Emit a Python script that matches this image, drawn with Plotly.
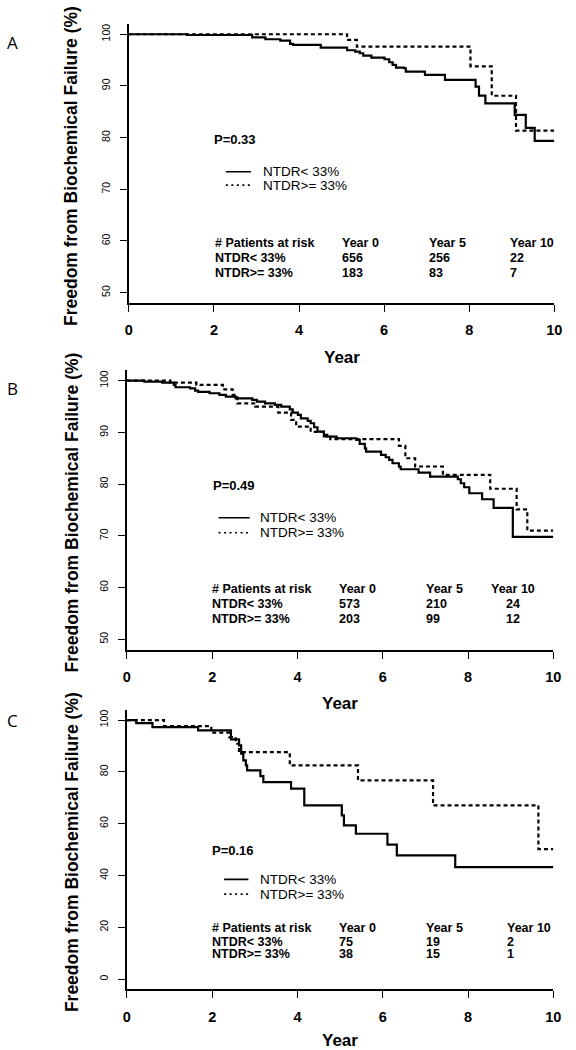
import plotly.graph_objects as go

W, H = 576, 1050

# ---------------- data ----------------
# Panel A
a_lt_t = [0, 1.37, 2.90, 3.21, 3.56, 3.79, 3.86, 4.51, 5.13, 5.32, 5.43, 5.51, 5.70, 6.01, 6.12, 6.20,
          6.28, 6.47, 6.51, 6.96, 7.43, 8.15, 8.23, 8.38, 9.07, 9.33, 9.54, 10.0]
a_lt_s = [100, 99.85, 99.41, 99.03, 98.77, 98.12, 97.93, 97.41, 96.90, 96.64, 96.32, 95.87, 95.48, 95.16,
          94.58, 94.06, 93.55, 93.42, 92.77, 92.13, 91.16, 89.87, 88.13, 86.64, 84.4, 81.9, 79.35, 79.35]
a_ge_t = [0, 5.13, 5.36, 8.03, 8.53, 9.10, 10.0]
a_ge_s = [100, 98.9, 97.6, 93.8, 88.1, 81.35, 81.35]

# Panel B
b_lt_t = [0, 0.41, 0.83, 1.10, 1.14, 1.48, 1.60, 1.67, 1.94, 2.17, 2.32, 2.55, 2.94, 3.05, 3.24, 3.47,
          3.62, 3.82, 3.89, 4.01, 4.08, 4.24, 4.31, 4.39, 4.47, 4.62, 4.70, 4.92, 5.38, 5.46, 5.58, 5.61,
          5.96, 6.07, 6.15, 6.23, 6.38, 6.42, 6.84, 7.11, 7.76, 7.83, 7.91, 8.03, 8.33, 8.60, 9.05, 10.0]
b_lt_s = [100, 99.8, 99.62, 99.17, 98.72, 98.52, 98.07, 97.82, 97.56, 97.24, 96.91, 96.59, 96.27, 95.95,
          95.62, 95.30, 94.98, 94.46, 93.82, 93.37, 92.72, 92.21, 91.76, 90.99, 90.15, 89.50, 89.18, 88.86,
          88.53, 87.76, 86.92, 86.28, 85.64, 85.19, 84.67, 84.03, 83.38, 82.87, 82.22, 81.45, 80.94, 80.16,
          79.39, 78.23, 77.07, 75.4, 69.8, 69.8]
b_ge_t = [0, 1.02, 1.63, 2.25, 2.48, 2.59, 3.01, 3.55, 3.85, 3.97, 4.31, 4.62, 4.77, 6.38, 6.53, 6.76,
          7.41, 8.52, 9.14, 9.39, 10.0]
b_ge_s = [100, 99.62, 99.17, 98.33, 97.24, 95.62, 94.98, 93.82, 92.4, 91.1, 90.1, 89.2, 88.7, 87.4, 85.0,
          83.4, 81.8, 79.1, 75.1, 71.0, 71.0]

# Panel C
c_lt_t = [0, 0.22, 0.60, 1.67, 2.44, 2.63, 2.68, 2.73, 2.79, 2.82, 3.13, 3.20, 3.85, 4.16, 5.04, 5.09,
          5.37, 6.11, 6.33, 7.70, 10.0]
c_lt_s = [100, 98.84, 97.30, 96.01, 92.54, 90.22, 87.0, 84.43, 82.5, 80.57, 78.38, 76.06, 73.49, 67.05,
          63.19, 59.33, 56.11, 51.87, 47.75, 43.24, 43.24]
c_ge_t = [0, 0.87, 1.98, 2.40, 2.55, 2.63, 3.82, 5.42, 7.18, 9.65, 10.0]
c_ge_s = [100, 97.68, 95.11, 93.44, 90.86, 87.64, 82.5, 76.7, 67.05, 50.2, 50.2]

group_labels = ["NTDR< 33%", "NTDR>= 33%"]
risk_header = ["# Patients at risk", "Year 0", "Year 5", "Year 10"]
a_risk_lt = [656, 256, 22]
a_risk_ge = [183, 83, 7]
b_risk_lt = [573, 210, 24]
b_risk_ge = [203, 99, 12]
c_risk_lt = [75, 19, 2]
c_risk_ge = [38, 15, 1]
p_values = ["P=0.33", "P=0.49", "P=0.16"]
panel_letters = ["A", "B", "C"]
x_ticks = [0, 2, 4, 6, 8, 10]
y_ticks_ab = [50, 60, 70, 80, 90, 100]
y_ticks_c = [0, 20, 40, 60, 80, 100]

# ---------------- layout config (pixels) ----------------
panels = [
    dict(lt=(a_lt_t, a_lt_s), ge=(a_ge_t, a_ge_s), risk=(a_risk_lt, a_risk_ge), p=p_values[0],
         letter=panel_letters[0], letter_xy=(9, 42),
         xpx=(127.5, 562), ypx=(23.9, 303.0), yrange=[48, 102], yticks=y_ticks_ab,
         p_xy=(1.98, 79.7), leg_x=(2.28, 2.87, 3.13), leg_y=(73.4, 70.8),
         cols=(1.99, 4.99, 7.02, 8.93), col_anchor=("left", "left", "left", "left"),
         rows=(59.7, 56.7, 53.8), year_y=357),
    dict(lt=(b_lt_t, b_lt_s), ge=(b_ge_t, b_ge_s), risk=(b_risk_lt, b_risk_ge), p=p_values[1],
         letter=panel_letters[1], letter_xy=(8.6, 389),
         xpx=(125.5, 561), ypx=(370.3, 649.6), yrange=[48, 102], yticks=y_ticks_ab,
         p_xy=(2.0, 79.7), leg_x=(2.15, 2.88, 3.1), leg_y=(73.5, 70.6),
         cols=(1.98, 4.96, 6.98, 9.05), col_anchor=("left", "left", "left", "center"),
         rows=(59.7, 56.8, 53.9), year_y=703),
    dict(lt=(c_lt_t, c_lt_s), ge=(c_ge_t, c_ge_s), risk=(c_risk_lt, c_risk_ge), p=p_values[2],
         letter=panel_letters[2], letter_xy=(9, 720),
         xpx=(125.5, 561), ypx=(709.7, 989.4), yrange=[-4, 104], yticks=y_ticks_c,
         p_xy=(1.98, 49.5), leg_x=(2.28, 2.85, 3.1), leg_y=(38.5, 32.8),
         cols=(1.98, 4.96, 6.98, 8.90), col_anchor=("left", "left", "left", "left"),
         rows=(19.6, 14.4, 9.5), year_y=1040.5),
]

FONT = "Liberation Sans, Arial, sans-serif"
fig = go.Figure()
annotations = []
shapes = []

for i, p in enumerate(panels):
    k = "" if i == 0 else str(i + 1)
    xa, ya = "x" + k, "y" + k
    # curves
    fig.add_trace(go.Scatter(x=p["lt"][0], y=p["lt"][1], mode="lines", line_shape="hv",
                             line=dict(color="black", width=2.2), xaxis=xa, yaxis=ya,
                             showlegend=False, hoverinfo="skip"))
    fig.add_trace(go.Scatter(x=p["ge"][0], y=p["ge"][1], mode="lines", line_shape="hv",
                             line=dict(color="black", width=2.2, dash="4px,3px"), xaxis=xa, yaxis=ya,
                             showlegend=False, hoverinfo="skip"))
    x0, x1 = p["xpx"]
    yt, yb = p["ypx"]
    axis_common = dict(showline=True, linecolor="black", linewidth=2, ticks="outside", ticklen=7,
                       tickwidth=1, tickcolor="black", showgrid=False, zeroline=False, fixedrange=True)
    fig.layout["xaxis" + k] = dict(axis_common, domain=[x0 / W, x1 / W], range=[0, 10], tickvals=x_ticks,
                                   tickfont=dict(family=FONT, size=14.5, color="black", weight="bold"),
                                   anchor=ya, ticklabelstandoff=6)
    fig.layout["yaxis" + k] = dict(axis_common, domain=[1 - yb / H, 1 - yt / H], range=p["yrange"],
                                   tickvals=p["yticks"], tickangle=-90,
                                   tickfont=dict(family=FONT, size=10.5, color="black"),
                                   anchor=xa, ticklabelstandoff=6)

    def add_text(x, y, text, size=12.5, bold=True, xanchor="left"):
        annotations.append(dict(x=x, y=y, xref=xa, yref=ya, text=text, showarrow=False,
                                xanchor=xanchor, yanchor="middle", borderpad=0,
                                font=dict(family=FONT, size=size, color="black",
                                          weight="bold" if bold else "normal")))

    add_text(p["p_xy"][0], p["p_xy"][1], p["p"], size=13, bold=True)
    lx0, lx1, ltx = p["leg_x"]
    for j, (lbl, dash) in enumerate(zip(group_labels, ["solid", "2px,3.5px"])):
        shapes.append(dict(type="line", xref=xa, yref=ya, x0=lx0, x1=lx1, y0=p["leg_y"][j],
                           y1=p["leg_y"][j], line=dict(color="black", width=1.6, dash=dash)))
        add_text(ltx, p["leg_y"][j], lbl, size=13.5, bold=False)
    # risk table
    for c, hdr in enumerate(risk_header):
        add_text(p["cols"][c], p["rows"][0], hdr, xanchor=p["col_anchor"][c])
    for r, lbl in enumerate(group_labels):
        add_text(p["cols"][0], p["rows"][r + 1], lbl)
        for c, v in enumerate(p["risk"][r]):
            add_text(p["cols"][c + 1], p["rows"][r + 1], str(v), xanchor=p["col_anchor"][c + 1])
    # axis titles and panel letter
    annotations.append(dict(x=(x0 + x1) / 2 / W, y=1 - p["year_y"] / H, xref="paper", yref="paper",
                            text="Year", showarrow=False, xanchor="center", yanchor="middle",
                            borderpad=0,
                            font=dict(family=FONT, size=17, color="black", weight="bold")))
    annotations.append(dict(x=69 / W, y=1 - ((yt + yb) / 2 + 3) / H, xref="paper", yref="paper",
                            text="Freedom from Biochemical Failure (%)", textangle=-90, showarrow=False,
                            xanchor="center", yanchor="middle",
                            font=dict(family=FONT, size=17.5, color="black", weight="bold")))
    lx, ly = p["letter_xy"]
    annotations.append(dict(x=lx / W, y=1 - ly / H, xref="paper", yref="paper", text=p["letter"],
                            showarrow=False, xanchor="center", yanchor="middle",
                            font=dict(family="Open Sans, Liberation Sans, sans-serif", size=17,
                                      color="black")))

fig.update_layout(width=W, height=H, autosize=False, margin=dict(l=0, r=0, t=0, b=0),
                  paper_bgcolor="white", plot_bgcolor="white", showlegend=False,
                  annotations=annotations, shapes=shapes)

# remove the browser's default 8px page margin so the figure sits at the window origin
fig.write_html("out.html", config={"displayModeBar": False, "staticPlot": True},
               post_script="document.body.style.margin='0';document.body.style.overflow='hidden';")
